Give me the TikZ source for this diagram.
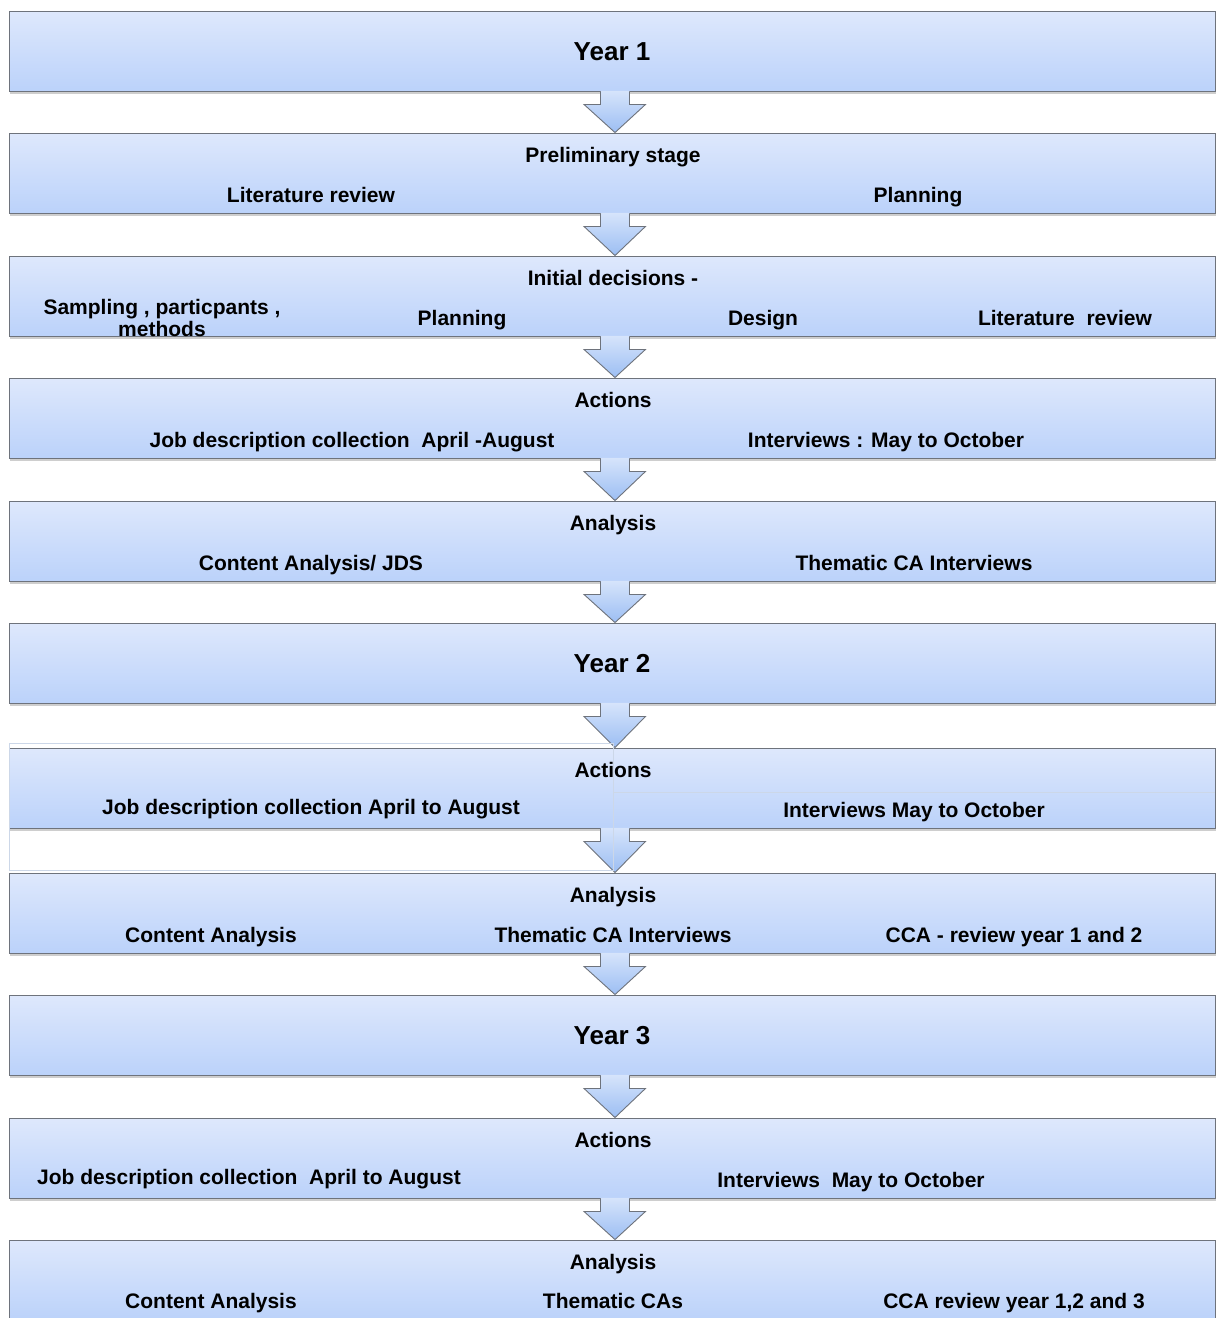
\documentclass[tikz,border=0pt]{standalone}
\usepackage{fontspec}
\setmainfont{Liberation Sans}
\usetikzlibrary{shadows,calc}
\definecolor{boxtop}{HTML}{DEE8FC}
\definecolor{boxbot}{HTML}{BBD2FA}
\definecolor{edge}{HTML}{6E737C}
\definecolor{arrtop}{HTML}{D6E4FB}
\definecolor{arrbot}{HTML}{9CBEF3}
\definecolor{faint}{HTML}{CCD7E8}

% down arrow from the bottom of one stage to the top of the next
\newcommand\flowarrow[2]{%
  \path[top color=arrtop,bottom color=arrbot]
    let \p1=(#1.south), \p2=(#2.north) in
    (\x1-11.5,\y1+0.6) -- (\x1-11.5,\y1-13) -- (\x1-28,\y1-13) --
    (\x1+3,\y2) -- (\x1+33.5,\y1-13) -- (\x1+17.5,\y1-13) --
    (\x1+17.5,\y1+0.6) -- cycle;
  \draw[edge,line width=0.9pt,line join=miter]
    let \p1=(#1.south), \p2=(#2.north) in
    (\x1-11.5,\y1) -- (\x1-11.5,\y1-13) -- (\x1-28,\y1-13) --
    (\x1+3,\y2) -- (\x1+33.5,\y1-13) -- (\x1+17.5,\y1-13) --
    (\x1+17.5,\y1);%
}

\begin{document}
\begin{tikzpicture}[x=1pt,y=1pt,
  stage/.style={rectangle, minimum width=1206pt, minimum height=80pt,
    inner sep=0pt, top color=boxtop, bottom color=boxbot, draw=edge,
    line width=0.9pt,
    drop shadow={shadow xshift=1pt, shadow yshift=-3pt, opacity=0.38}},
  lab/.style={font=\fontsize{21}{22}\selectfont\bfseries, inner sep=0pt, anchor=base},
  yr/.style={font=\fontsize{26}{28}\selectfont\bfseries, inner sep=0pt, anchor=base},
]
\useasboundingbox[fill=white] (0,0) rectangle (1216,-1318);

% stages
\node[stage] (b1)  at (612,-51)   {};
\node[stage] (b2)  at (612,-173)  {};
\node[stage] (b3)  at (612,-296)  {};
\node[stage] (b4)  at (612,-418)  {};
\node[stage] (b5)  at (612,-541)  {};
\node[stage] (b6)  at (612,-663)  {};
\node[stage] (b7)  at (612,-788)  {};
\node[stage] (b8)  at (612,-913)  {};
\node[stage] (b9)  at (612,-1035) {};
\node[stage] (b10) at (612,-1158) {};
\node[stage] (b11) at (612,-1280) {};

% connectors
\flowarrow{b1}{b2}
\flowarrow{b2}{b3}
\flowarrow{b3}{b4}
\flowarrow{b4}{b5}
\flowarrow{b5}{b6}
\flowarrow{b6}{b7}
\flowarrow{b7}{b8}
\flowarrow{b8}{b9}
\flowarrow{b9}{b10}
\flowarrow{b10}{b11}

% split of the second actions stage
\draw[faint,line width=0.9pt] (9,-743) rectangle (613,-870);
\draw[faint,line width=0.9pt] (613,-748) -- (613,-870);
\draw[faint,line width=0.9pt] (613,-792) -- (1215,-792);

% texts
\node[yr] (t1) at (612,-60) {Year 1};

\node[lab] (t2a) at (613,-162) {Preliminary stage};
\node[lab] (t2b) at (311,-202) {Literature review};
\node[lab] (t2c) at (918,-202) {Planning};

\node[lab] (t3a) at (613,-285) {Initial decisions -};
\node[font=\fontsize{21}{22}\selectfont\bfseries, inner sep=0pt, align=center]
  (t3b) at (162,-318) {Sampling , particpants ,\\methods};
\node[lab] (t3c) at (462,-325) {Planning};
\node[lab] (t3d) at (763,-325) {Design};
\node[lab] (t3e) at (1065,-325) {Literature\ \ review};

\node[lab] (t4a) at (613,-407) {Actions};
\node[lab] (t4b) at (352,-447) {Job description collection\ \ April -August};
\node[lab] (t4c) at (886,-447) {Interviews : May to October};

\node[lab] (t5a) at (613,-530) {Analysis};
\node[lab] (t5b) at (311,-570) {Content Analysis/ JDS};
\node[lab] (t5c) at (914,-570) {Thematic CA Interviews};

\node[yr] (t6) at (612,-672) {Year 2};

\node[lab] (t7a) at (613,-777) {Actions};
\node[lab] (t7b) at (311,-814) {Job description collection April to August};
\node[lab] (t7c) at (914,-817) {Interviews May to October};

\node[lab] (t8a) at (613,-902) {Analysis};
\node[lab] (t8b) at (211,-942) {Content Analysis};
\node[lab] (t8c) at (613,-942) {Thematic CA Interviews};
\node[lab] (t8d) at (1014,-942) {CCA - review year 1 and 2};

\node[yr] (t9) at (612,-1044) {Year 3};

\node[lab] (t10a) at (613,-1147) {Actions};
\node[lab] (t10b) at (249,-1184) {Job description collection\ \ April to August};
\node[lab] (t10c) at (851,-1187) {Interviews\ \ May to October};

\node[lab] (t11a) at (613,-1269) {Analysis};
\node[lab] (t11b) at (211,-1308) {Content Analysis};
\node[lab] (t11c) at (613,-1308) {Thematic CAs};
\node[lab] (t11d) at (1014,-1308) {CCA review year 1,2 and 3};
\end{tikzpicture}
\end{document}
